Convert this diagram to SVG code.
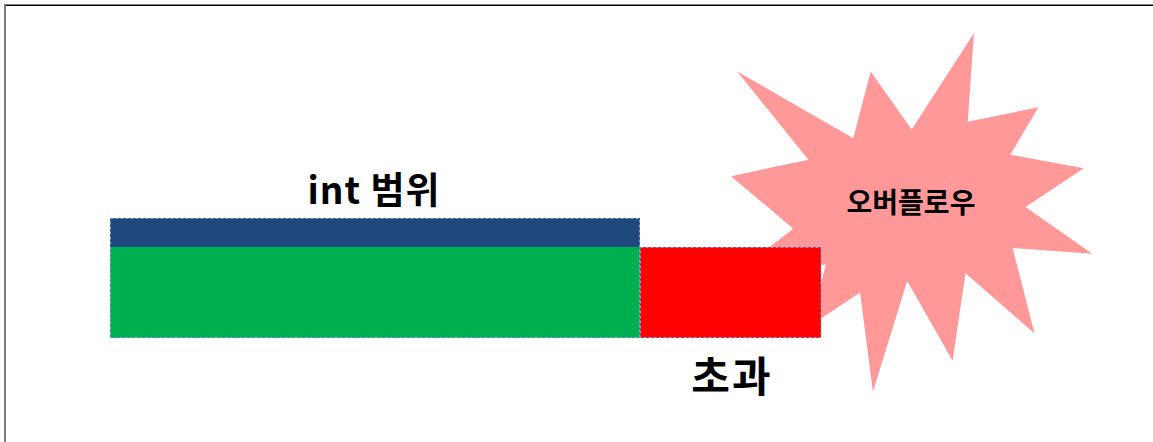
<svg xmlns="http://www.w3.org/2000/svg" width="1153" height="442" viewBox="0 0 1153 442">
  <style>
    .lbl { font-family: "Noto Sans CJK KR", "Noto Sans", sans-serif; font-weight: bold; fill: #000; text-anchor: middle; }
    .dash { stroke: #7d9fd6; stroke-width: 1; stroke-dasharray: 3 2; fill: none; }
  </style>
  <rect x="0" y="0" width="1153" height="442" fill="#fff"/>
  <g id="frame">
    <line x1="4" y1="5.25" x2="1153" y2="5.25" stroke="#000" stroke-width="1.5"/>
    <line x1="5" y1="4.5" x2="5" y2="442" stroke="#7a7a7a" stroke-width="2"/>
  </g>
  <g id="overflow">
    <polygon fill="#ff9999" transform="translate(731,33.3) scale(0.016727,0.016593)" points="10800,5800 14522,0 14155,5325 18380,4457 16702,7315 21097,8137 17607,10475 21600,13290 16837,12942 18145,18095 14020,14457 13247,19737 10532,14935 8485,21600 7715,15627 4762,17617 5667,13937 135,14587 3722,11775 0,8615 4627,7617 370,2295 7312,6320 8352,2295"/>
    <text class="lbl" x="911" y="213" font-size="28">오버플로우</text>
  </g>
  <g id="int-range">
    <rect x="110" y="218" width="530" height="29" fill="#1f497d"/>
    <rect x="110" y="247" width="530" height="91" fill="#00b050"/>
    <rect class="dash" x="110.5" y="218.5" width="529" height="119"/>
    <text class="lbl" x="374" y="204" font-size="37" letter-spacing="1">int 범위</text>
  </g>
  <g id="exceed">
    <rect x="640" y="247" width="181" height="91" fill="#ff0000"/>
    <rect class="dash" x="640.5" y="247.5" width="180.5" height="90"/>
    <text class="lbl" x="732" y="392" font-size="42" letter-spacing="2">초과</text>
  </g>
  <g id="connectors"/>
</svg>
